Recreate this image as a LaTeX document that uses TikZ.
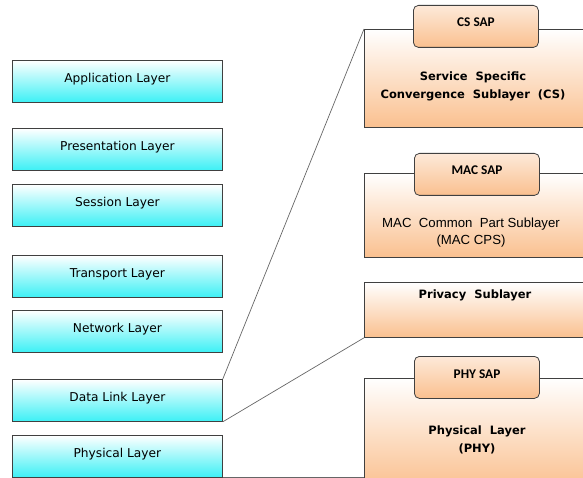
\documentclass[tikz,border=0pt]{standalone}
\usepackage{fontspec}
\setmainfont{DejaVu Sans}
\newfontfamily\tabfont{Carlito}
\newfontfamily\arialfont{Liberation Sans}
\definecolor{cyanb}{RGB}{60,240,245}
\definecolor{peach}{RGB}{250,192,143}
\definecolor{peachl}{RGB}{253,233,217}
\definecolor{edge}{RGB}{64,64,64}
\begin{document}
\begin{tikzpicture}[x=1pt,y=-1pt,
  leftbox/.style={draw=edge, line width=0.8pt, top color=white, bottom color=cyanb,
    minimum width=210pt, minimum height=42pt, anchor=north west, inner sep=0pt,
    text height=10pt, text depth=8pt,
    font=\fontsize{12.2}{14}\selectfont},
  bigbox/.style={draw=edge, line width=0.8pt, top color=white, bottom color=peach,
    anchor=north west, inner sep=0pt},
  tabbox/.style={draw=edge, line width=0.8pt, rounded corners=5pt, top color=peachl, bottom color=peach,
    minimum width=125pt, minimum height=42pt, anchor=north west, inner sep=0pt},
  tabtext/.style={font=\tabfont\bfseries\fontsize{13.3}{15}\selectfont},
  boldtext/.style={font=\bfseries\fontsize{11.5}{18}\selectfont, align=center},
  conn/.style={draw=edge!80, line width=0.7pt}]
\useasboundingbox (0,0) rectangle (583,478);
% left stack
\node[leftbox] (app) at (12,60) {Application Layer};
\node[leftbox] (pres) at (12,128) {Presentation Layer};
\node[leftbox] (sess) at (12,184) {Session Layer};
\node[leftbox] (trans) at (12,255) {Transport Layer};
\node[leftbox] (net) at (12,310) {Network Layer};
\node[leftbox] (dl) at (12,379) {Data Link Layer};
\node[leftbox] (phys) at (12,435) {Physical Layer};
% right stack
\node[bigbox, minimum width=230pt, minimum height=98pt] (cs) at (364,29) {};
\node[tabbox] (cssap) at (413,5) {};
\node[tabtext] (cssapt) at (476,22) {CS SAP};
\node[boldtext] (cst) at (473,86) {Service\ \ Specific\\Convergence\ \ Sublayer\ \ (CS)};
\node[bigbox, minimum width=230pt, minimum height=84pt] (mac) at (364,173) {};
\node[tabbox] (macsap) at (414,153) {};
\node[tabtext] (macsapt) at (477,170) {MAC SAP};
\node[font=\arialfont\fontsize{13.2}{17}\selectfont, align=center] (mact) at (471,233) {MAC\ \ Common\ \ Part\ Sublayer\\(MAC CPS)};
\node[bigbox, minimum width=230pt, minimum height=55pt] (priv) at (364,282) {};
\node[boldtext] (privt) at (475,295) {Privacy\ \ Sublayer};
\node[bigbox, minimum width=230pt, minimum height=110pt] (phy) at (364,378) {};
\node[tabbox] (physap) at (414,356) {};
\node[tabtext] (physapt) at (477,374) {PHY SAP};
\node[boldtext] (phyt) at (477,440) {Physical\ \ Layer\\(PHY)};
% connectors
\draw[conn] (dl.north east) -- (cs.north west);
\draw[conn] (dl.south east) -- (priv.south west);
\draw[conn] (phys.south east) -- (phy.south west |- phys.south east);
\end{tikzpicture}
\end{document}
